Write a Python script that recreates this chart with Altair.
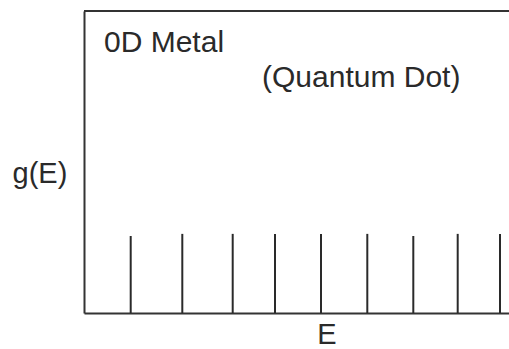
import altair as alt
import pandas as pd

# Energy levels (arbitrary units) and spike heights of g(E)
energy = [0.467, 0.983, 1.487, 1.91, 2.37, 2.833, 3.293, 3.737, 4.16]
g_values = [0.255, 0.262, 0.262, 0.262, 0.262, 0.262, 0.255, 0.262, 0.262]

label_text = ["0D Metal", "(Quantum Dot)"]
label_x = [0.2, 1.78]
label_y = [0.864, 0.748]

W, H = 425, 302
FONT = "Liberation Sans"
INK = "#2a2a2a"

spikes = pd.DataFrame({"E": energy, "g": g_values, "base": [0.0] * len(energy)})
labels = pd.DataFrame({"text": label_text, "x": label_x, "y": label_y})

xscale = alt.Scale(domain=[0, 4.25], nice=False, zero=False)
yscale = alt.Scale(domain=[0, 1], nice=False)

x_axis = alt.Axis(
    ticks=False, labels=False, grid=False, domain=True,
    domainColor="#333333", domainWidth=2,
    title="E", titleFont=FONT, titleFontSize=29, titleFontWeight="normal",
    titleColor=INK, titleX=242.5, titleY=30, titleAlign="center",
    titleBaseline="alphabetic",
)
y_axis = alt.Axis(
    ticks=False, labels=False, grid=False, domain=True,
    domainColor="#333333", domainWidth=2,
    title="g(E)", titleFont=FONT, titleFontSize=29, titleFontWeight="normal",
    titleColor=INK, titleAngle=0, titleX=-72, titleY=171, titleAlign="left",
    titleBaseline="alphabetic",
)

rules = alt.Chart(spikes).mark_rule(color=INK, strokeWidth=2).encode(
    x=alt.X("E:Q", scale=xscale, axis=x_axis),
    y=alt.Y("g:Q", scale=yscale, axis=y_axis),
    y2="base:Q",
)

top_line = alt.Chart(pd.DataFrame({"a": [0]})).mark_rule(
    color="#333333", strokeWidth=2
).encode(x=alt.value(0), x2=alt.value(W), y=alt.value(0))

texts = alt.Chart(labels).mark_text(
    font=FONT, fontSize=30, color=INK, align="left", baseline="alphabetic"
).encode(
    x=alt.X("x:Q", scale=xscale),
    y=alt.Y("y:Q", scale=yscale),
    text="text:N",
)

chart = (
    alt.layer(rules, top_line, texts)
    .properties(
        width=W, height=H,
        autosize=alt.AutoSizeParams(type="none"),
        padding={"left": 84, "top": 11, "right": 0, "bottom": 36},
        background="white",
    )
    .configure_view(stroke=None)
)

chart.save("out.html", embed_options={"renderer": "svg", "actions": False})
